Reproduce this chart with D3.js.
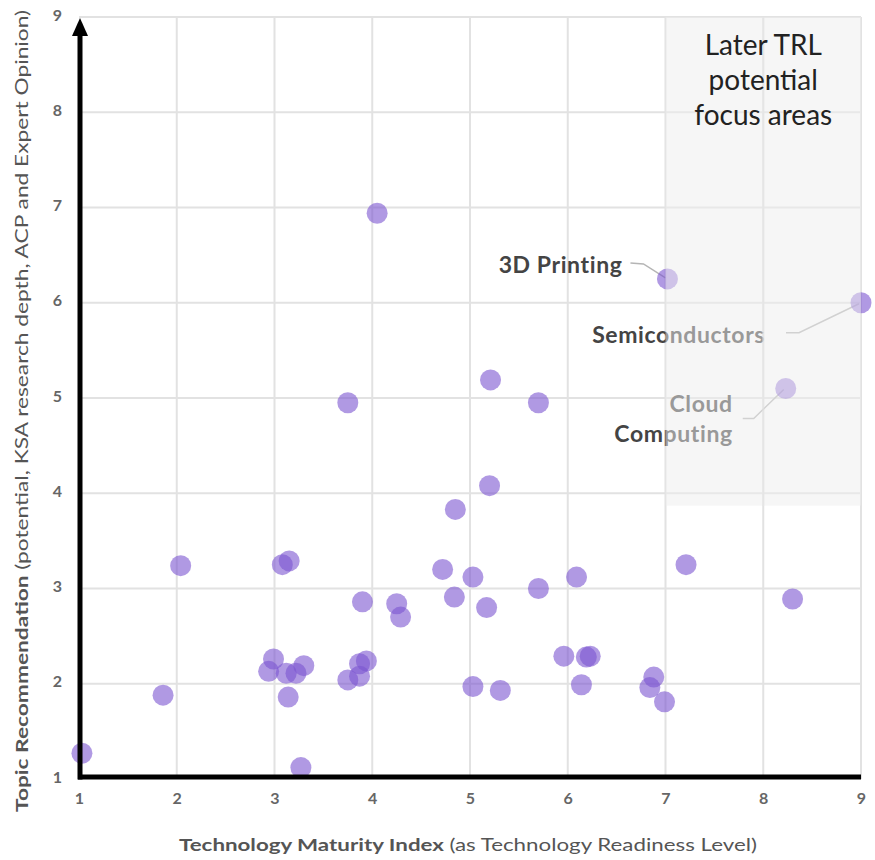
<!DOCTYPE html>
<html>
<head>
<meta charset="utf-8">
<script src="https://cdn.jsdelivr.net/npm/d3@7"></script>
<style>
  html, body { margin: 0; padding: 0; background: #fff; }
  svg { display: block; font-family: Lato, "Open Sans", sans-serif; }
</style>
</head>
<body>
<svg id="chart" width="875" height="860"></svg>
<script>
// ---- Data ----
const xValues = [1.03, 1.86, 2.04, 3.08, 3.15, 3.90, 4.25, 4.29, 2.99, 2.94, 3.12, 3.22, 3.30, 3.14, 3.27,
  3.87, 3.94, 3.75, 3.87, 4.72, 5.03, 4.84, 5.17, 5.70, 6.09, 7.21, 5.96, 6.19, 6.23, 5.03, 5.31, 6.14,
  6.88, 6.84, 6.99, 4.05, 3.75, 5.21, 5.70, 5.20, 4.85, 8.30];
const yValues = [1.27, 1.88, 3.24, 3.25, 3.29, 2.86, 2.84, 2.70, 2.26, 2.13, 2.11, 2.11, 2.19, 1.86, 1.12,
  2.21, 2.24, 2.04, 2.08, 3.20, 3.12, 2.91, 2.80, 3.00, 3.12, 3.25, 2.29, 2.28, 2.29, 1.97, 1.93, 1.99,
  2.07, 1.96, 1.81, 6.94, 4.95, 5.19, 4.95, 4.08, 3.83, 2.89];
const labeledNames = ["3D Printing", "Semiconductors", "Cloud Computing"];
const labeledX = [7.02, 9.0, 8.23];
const labeledY = [6.25, 6.0, 5.10];
const xTicks = [1, 2, 3, 4, 5, 6, 7, 8, 9];
const yTicks = [1, 2, 3, 4, 5, 6, 7, 8, 9];
const focusArea = { x0: 7, x1: 9, y0: 3.87, y1: 9 };
const focusText = ["Later TRL", "potential", "focus areas"];

// label layout (pixel offsets relative to dot): text lines, text anchor offset, connector
const labelLayout = [
  { lines: ["3D Printing"], tx: -45, ty: [-6], path: [[-37, -16], [-24, -15], [-2, -1]] },
  { lines: ["Semiconductors"], tx: -96, ty: [40], path: [[-75, 30], [-62, 30], [-2, 1]] },
  { lines: ["Cloud", "Computing"], tx: -53, ty: [24, 54], path: [[-43, 30], [-32, 30], [-2, 1]] }
];

// ---- Scales ----
const svg = d3.select("#chart");
const x = d3.scaleLinear().domain([1, 9]).range([79, 861]);
const y = d3.scaleLinear().domain([1, 9]).range([779, 17]);

// ---- Gridlines ----
const grid = svg.append("g");
grid.selectAll("line.v").data(xTicks.slice(1)).join("line")
  .attr("x1", d => x(d)).attr("x2", d => x(d))
  .attr("y1", y(9)).attr("y2", y(1))
  .attr("stroke", "#e2e2e2").attr("stroke-width", 2);
grid.selectAll("line.h").data(yTicks.slice(1)).join("line")
  .attr("x1", x(1)).attr("x2", x(9))
  .attr("y1", d => y(d)).attr("y2", d => y(d))
  .attr("stroke", "#e2e2e2").attr("stroke-width", 2);

// ---- Dots ----
const pts = xValues.map((v, i) => ({ x: v, y: yValues[i] }));
const dotFill = "#7b55d0";
svg.append("g").selectAll("circle").data(pts).join("circle")
  .attr("cx", d => x(d.x)).attr("cy", d => y(d.y)).attr("r", 10.5)
  .attr("fill", dotFill).attr("fill-opacity", 0.6);

// ---- Labeled dots ----
const labeled = labeledNames.map((n, i) => ({ name: n, x: labeledX[i], y: labeledY[i], lay: labelLayout[i] }));
const lg = svg.append("g");
lg.selectAll("path").data(labeled).join("path")
  .attr("d", d => {
    const cx = x(d.x), cy = y(d.y);
    return d3.line()(d.lay.path.map(p => [cx + p[0], cy + p[1]]));
  })
  .attr("fill", "none").attr("stroke", "#b5b5b5").attr("stroke-width", 1.5);
lg.selectAll("circle").data(labeled).join("circle")
  .attr("cx", d => x(d.x)).attr("cy", d => y(d.y)).attr("r", 10.5)
  .attr("fill", dotFill).attr("fill-opacity", 0.6);
labeled.forEach(d => {
  const cx = x(d.x), cy = y(d.y);
  d.lay.lines.forEach((ln, j) => {
    lg.append("text")
      .attr("x", cx + d.lay.tx).attr("y", cy + d.lay.ty[j])
      .attr("text-anchor", "end")
      .attr("font-size", 23).attr("font-weight", 700)
      .attr("letter-spacing", 0.6)
      .attr("fill", "#444")
      .text(ln);
  });
});

// ---- Focus area overlay ----
svg.append("rect")
  .attr("x", x(focusArea.x0)).attr("y", y(focusArea.y1))
  .attr("width", x(focusArea.x1) - x(focusArea.x0))
  .attr("height", y(focusArea.y0) - y(focusArea.y1))
  .attr("fill", "#eeeeee").attr("fill-opacity", 0.5);
svg.append("g").selectAll("line").data([8]).join("line")
  .attr("x1", d => x(d)).attr("x2", d => x(d))
  .attr("y1", y(focusArea.y1)).attr("y2", y(focusArea.y0))
  .attr("stroke", "#e2e2e2").attr("stroke-width", 2).attr("stroke-opacity", 0.6);

svg.append("g").selectAll("text").data(focusText).join("text")
  .attr("x", (x(focusArea.x0) + x(focusArea.x1)) / 2)
  .attr("y", (d, i) => 55 + i * 35)
  .attr("text-anchor", "middle")
  .attr("font-size", 28).attr("fill", "#222")
  .text(d => d);

// ---- Axes ----
const ax = svg.append("g");
ax.append("line")
  .attr("x1", x(1) - 1).attr("x2", x(9))
  .attr("y1", y(1) - 2).attr("y2", y(1) - 2)
  .attr("stroke", "#000").attr("stroke-width", 5);
ax.append("line")
  .attr("x1", x(1) + 1).attr("x2", x(1) + 1)
  .attr("y1", y(1) - 2 + 2.5).attr("y2", y(9) + 16)
  .attr("stroke", "#000").attr("stroke-width", 5);
ax.append("path")
  .attr("d", d3.line()([[x(1) + 1, y(9) + 1], [x(1) - 7, y(9) + 19], [x(1) + 9, y(9) + 19]]) + "Z")
  .attr("fill", "#000");

// tick labels
const xAxis = d3.axisBottom(x).tickValues(xTicks).tickSize(0).tickPadding(0).tickFormat(d3.format("d"));
const gx = svg.append("g").attr("transform", `translate(0, ${y(1) + 14})`).call(xAxis);
gx.select(".domain").remove();
gx.selectAll("text").attr("font-size", 16).attr("font-weight", 700).attr("fill", "#666")
  .attr("font-family", "Lato, sans-serif").attr("dy", "0.71em");

const yAxis = d3.axisLeft(y).tickValues(yTicks).tickSize(0).tickPadding(0).tickFormat(d3.format("d"));
const gy = svg.append("g").attr("transform", `translate(62, -2)`).call(yAxis);
gy.select(".domain").remove();
gy.selectAll("text").attr("font-size", 16).attr("font-weight", 700).attr("fill", "#666")
  .attr("font-family", "Lato, sans-serif");

// axis titles
const xt = svg.append("text")
  .attr("x", 468).attr("y", 851)
  .attr("text-anchor", "middle")
  .attr("font-size", 17).attr("fill", "#555")
  .attr("textLength", 578).attr("lengthAdjust", "spacingAndGlyphs");
xt.append("tspan").attr("font-weight", 700).text("Technology Maturity Index ");
xt.append("tspan").text("(as Technology Readiness Level)");

const yt = svg.append("text")
  .attr("transform", "translate(28, 411) rotate(-90)")
  .attr("text-anchor", "middle")
  .attr("font-size", 17).attr("fill", "#555")
  .attr("textLength", 802).attr("lengthAdjust", "spacingAndGlyphs");
yt.append("tspan").attr("font-weight", 700).text("Topic Recommendation ");
yt.append("tspan").text("(potential, KSA research depth, ACP and Expert Opinion)");
</script>
</body>
</html>
